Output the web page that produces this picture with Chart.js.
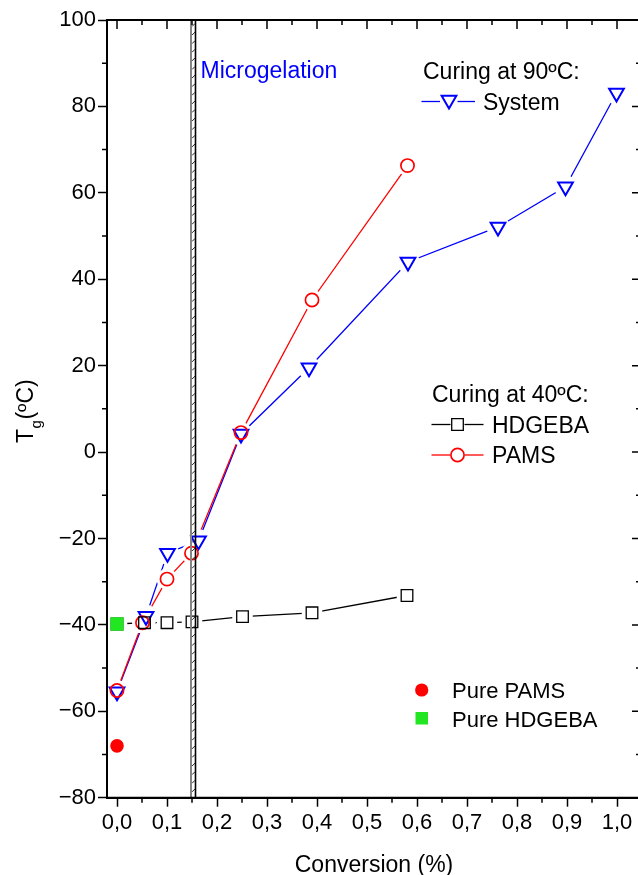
<!DOCTYPE html>
<html><head><meta charset="utf-8">
<script src="https://cdn.jsdelivr.net/npm/chart.js@4.4.1/dist/chart.umd.min.js"></script>
<style>
html,body{margin:0;padding:0;background:#fff;overflow:hidden;width:638px;height:875px;}
#wrap{position:absolute;left:0;top:0;width:645px;height:875px;}
</style>
</head><body><div id="wrap"><canvas id="c" width="645" height="875"></canvas></div>
<script>
// ---- data ----
const conversionSystem = [0, 0.058, 0.101, 0.163, 0.248, 0.384, 0.582, 0.762, 0.897, 0.999];
const tgSystem = [-55.5, -38.0, -23.4, -20.5, 4.2, 19.5, 44.0, 52.1, 61.4, 83.1];

const conversionPAMS = [0, 0.051, 0.100, 0.149, 0.248, 0.390, 0.581];
const tgPAMS = [-55.2, -39.5, -29.4, -23.4, 4.5, 35.2, 66.3];

const conversionHDGEBA = [0, 0.055, 0.100, 0.150, 0.251, 0.390, 0.580];
const tgHDGEBA = [-39.8, -39.5, -39.5, -39.3, -38.1, -37.2, -33.2];

const purePAMS = {x: 0, y: -68.0};
const pureHDGEBA = {x: 0, y: -39.8};

const microgelationStart = 0.148;
const microgelationEnd = 0.157;

const xTickValues = [0, 0.1, 0.2, 0.3, 0.4, 0.5, 0.6, 0.7, 0.8, 0.9, 1.0];
const xTickLabels = ['0,0','0,1','0,2','0,3','0,4','0,5','0,6','0,7','0,8','0,9','1,0'];
const yTickValues = [-80, -60, -40, -20, 0, 20, 40, 60, 80, 100];
const yTickLabels = ['\u221280','\u221260','\u221240','\u221220','0','20','40','60','80','100'];

const xTitle = 'Conversion (%)';
const labelMicrogelation = 'Microgelation';
const legend90 = 'Curing at 90\u00BAC:';
const legend40 = 'Curing at 40\u00BAC:';
const nameSystem = 'System', nameHDGEBA = 'HDGEBA', namePAMS = 'PAMS';
const namePurePAMS = 'Pure PAMS', namePureHDGEBA = 'Pure HDGEBA';

// ---- styles ----
const FONT = '"Liberation Sans", Arial, Helvetica, sans-serif';
const BLUE = '#0000ff', RED = '#ff0000', BLACK = '#000000', GREEN = '#22e622';
const TRI = {pointStyle: 'triangle', rotation: 180, radius: 8.5, borderWidth: 2};
const CIR = {pointStyle: 'circle', rotation: 0, radius: 6.6, borderWidth: 1.7};
const SQR = {pointStyle: 'rect', rotation: 0, radius: 8.2, borderWidth: 1.3};

const toXY = (xs, ys) => xs.map((v, i) => ({x: v, y: ys[i]}));

function lineSet(xs, ys, color) {
  return {data: toXY(xs, ys), borderColor: color, borderWidth: 1.3, pointRadius: 0,
          showLine: true, fill: false, order: 30, tension: 0};
}
function maskSet(xs, ys, style, r) {
  return {data: toXY(xs, ys), showLine: false, pointStyle: style, pointRadius: r,
          pointBackgroundColor: '#ffffff', pointBorderWidth: 0, pointBorderColor: '#ffffff', order: 20};
}
function markSet(xs, ys, color, m, fill) {
  return {data: toXY(xs, ys), showLine: false, pointStyle: m.pointStyle, pointRadius: m.radius,
          pointRotation: m.rotation, pointBorderWidth: m.borderWidth, pointBorderColor: color,
          pointBackgroundColor: fill || 'rgba(0,0,0,0)', order: 10};
}

const datasets = [
  lineSet(conversionHDGEBA, tgHDGEBA, BLACK),
  lineSet(conversionPAMS, tgPAMS, RED),
  lineSet(conversionSystem, tgSystem, BLUE),
  maskSet(conversionHDGEBA, tgHDGEBA, 'rect', 14.5),
  maskSet(conversionPAMS, tgPAMS, 'circle', 10.5),
  maskSet(conversionSystem, tgSystem, 'circle', 11.5),
  markSet(conversionHDGEBA, tgHDGEBA, BLACK, SQR),
  markSet(conversionPAMS, tgPAMS, RED, CIR),
  markSet(conversionSystem, tgSystem, BLUE, TRI),
  {data: [purePAMS], showLine: false, pointStyle: 'circle', pointRadius: 6.8, pointBorderWidth: 0,
   pointBackgroundColor: RED, pointBorderColor: RED, order: 5},
  {data: [pureHDGEBA], showLine: false, pointStyle: 'rect', pointRadius: 9.4, pointBorderWidth: 0,
   pointBackgroundColor: GREEN, pointBorderColor: GREEN, order: 5}
];

function drawMarker(ctx, m, color, x, y, fill) {
  ctx.save();
  ctx.strokeStyle = color; ctx.lineWidth = m.borderWidth;
  ctx.fillStyle = fill || 'rgba(0,0,0,0)';
  Chart.helpers.drawPoint(ctx, {pointStyle: m.pointStyle, rotation: m.rotation, radius: m.radius, borderWidth: m.borderWidth}, x, y);
  ctx.restore();
}
function hline(ctx, x1, x2, y, color) {
  ctx.save(); ctx.strokeStyle = color; ctx.lineWidth = 1.3;
  ctx.beginPath(); ctx.moveTo(x1, y); ctx.lineTo(x2, y); ctx.stroke(); ctx.restore();
}

const decor = {
  id: 'decor',
  afterDatasetsDraw(chart) {
    const {ctx, chartArea: a, scales: {x, y}} = chart;
    ctx.save();
    // microgelation band
    const bl = x.getPixelForValue(microgelationStart), br = x.getPixelForValue(microgelationEnd);
    ctx.save();
    ctx.beginPath(); ctx.rect(a.left, a.top, a.right - a.left, a.bottom - a.top); ctx.clip();
    ctx.strokeStyle = '#222'; ctx.lineWidth = 1;
    for (let yy = a.top + 4; yy < a.bottom; yy += 8.6) {
      ctx.beginPath(); ctx.moveTo(bl + 1, yy + 2.5); ctx.lineTo(br - 0.5, yy - 0.5); ctx.stroke();
    }
    ctx.strokeStyle = '#858585'; ctx.lineWidth = 2;
    ctx.beginPath(); ctx.moveTo(bl, a.top); ctx.lineTo(bl, a.bottom); ctx.stroke();
    ctx.strokeStyle = '#000'; ctx.lineWidth = 1.6;
    ctx.beginPath(); ctx.moveTo(br, a.top); ctx.lineTo(br, a.bottom); ctx.stroke();
    ctx.restore();

    // frame
    ctx.strokeStyle = '#000'; ctx.lineWidth = 2;
    ctx.beginPath();
    ctx.moveTo(a.left, a.bottom); ctx.lineTo(a.left, a.top); ctx.lineTo(a.right, a.top);
    ctx.lineTo(a.right, a.bottom); ctx.lineTo(a.left, a.bottom);
    ctx.stroke();

    // ticks
    ctx.lineWidth = 1.5;
    ctx.beginPath();
    for (let k = 0; k <= 20; k++) {
      const v = k * 0.05; const px = x.getPixelForValue(v);
      const major = k % 2 === 0;
      const L = major ? 9 : 5;
      if (!major) { ctx.moveTo(px, a.bottom); ctx.lineTo(px, a.bottom + 5); }
      ctx.moveTo(px, a.top); ctx.lineTo(px, a.top + L);
    }
    for (let v = -80; v <= 100; v += 10) {
      const py = y.getPixelForValue(v);
      const major = v % 20 === 0;
      const L = major ? 9 : 5;
      if (!major) { ctx.moveTo(a.left, py); ctx.lineTo(a.left - 5, py); }
      ctx.moveTo(a.right, py); ctx.lineTo(a.right - L, py);
    }
    ctx.stroke();

    // texts
    ctx.textBaseline = 'alphabetic'; ctx.textAlign = 'left';
    ctx.font = '23px ' + FONT;
    ctx.fillStyle = BLUE;
    ctx.fillText(labelMicrogelation, 200.5, 77.5);
    ctx.fillStyle = '#000';
    ctx.fillText(legend90, 423, 79);
    ctx.fillText(nameSystem, 483, 109.5);
    ctx.fillText(legend40, 432, 401.5);
    ctx.fillText(nameHDGEBA, 492, 433);
    ctx.fillText(namePAMS, 492, 463);
    ctx.font = '22px ' + FONT;
    ctx.fillText(namePurePAMS, 452, 698);
    ctx.fillText(namePureHDGEBA, 452, 727);

    // legend samples
    hline(ctx, 421.5, 440, 101.5, BLUE); hline(ctx, 457.5, 475, 101.5, BLUE);
    drawMarker(ctx, TRI, BLUE, 449, 100);
    hline(ctx, 431.5, 450.5, 424.5, BLACK); hline(ctx, 464.5, 483.5, 424.5, BLACK);
    drawMarker(ctx, SQR, BLACK, 457.5, 424.5);
    hline(ctx, 431.5, 450, 455, RED); hline(ctx, 465, 483.5, 455, RED);
    drawMarker(ctx, CIR, RED, 457.5, 455);
    ctx.save(); ctx.fillStyle = RED; ctx.beginPath(); ctx.arc(421.7, 690, 6.6, 0, Math.PI * 2); ctx.fill(); ctx.restore();
    ctx.save(); ctx.fillStyle = GREEN; ctx.fillRect(415.5, 712, 12.5, 12.5); ctx.restore();

    // axis titles
    ctx.fillStyle = '#000';
    ctx.font = '23px ' + FONT; ctx.textAlign = 'center';
    ctx.fillText(xTitle, 374, 872);
    ctx.save();
    ctx.translate(33, 443); ctx.rotate(-Math.PI / 2);
    ctx.textAlign = 'left';
    ctx.font = '23px ' + FONT; ctx.fillText('T', 0, 0);
    let w = ctx.measureText('T').width;
    ctx.font = '15px ' + FONT; ctx.fillText('g', w + 0.5, 8);
    w += ctx.measureText('g').width + 1;
    ctx.font = '23px ' + FONT; ctx.fillText('(\u00BAC)', w, 0);
    ctx.restore();

    ctx.restore();
  }
};

new Chart(document.getElementById('c'), {
  type: 'scatter',
  data: {datasets},
  options: {
    responsive: false, animation: false, devicePixelRatio: 1,
    layout: {autoPadding: false, padding: {left: 0, top: 20, right: 4, bottom: 0}},
    plugins: {legend: {display: false}, tooltip: {enabled: false}},
    scales: {
      x: {
        type: 'linear', position: 'bottom', min: -0.02, max: 1.048,
        afterBuildTicks: s => { s.ticks = xTickValues.map(v => ({value: v})); },
        afterFit: s => { s.height = 77.3; s.paddingLeft = 0; s.paddingRight = 0; },
        ticks: {callback: (v, i) => xTickLabels[i], font: {family: FONT, size: 22}, color: '#000', padding: 3, maxRotation: 0, autoSkip: false},
        grid: {drawOnChartArea: false, drawTicks: true, tickLength: 9, tickWidth: 1.5, tickColor: '#000'},
        border: {display: true, color: '#000', width: 2}
      },
      y: {
        type: 'linear', position: 'left', min: -80, max: 100,
        afterBuildTicks: s => { s.ticks = yTickValues.map(v => ({value: v})); },
        afterFit: s => { s.width = 107; s.paddingTop = 0; s.paddingBottom = 0; },
        ticks: {callback: (v, i) => yTickLabels[i], font: {family: FONT, size: 22}, color: '#000', padding: 2, autoSkip: false},
        grid: {drawOnChartArea: false, drawTicks: true, tickLength: 9, tickWidth: 1.5, tickColor: '#000'},
        border: {display: true, color: '#000', width: 2}
      }
    }
  },
  plugins: [decor]
});
</script>
</body></html>
